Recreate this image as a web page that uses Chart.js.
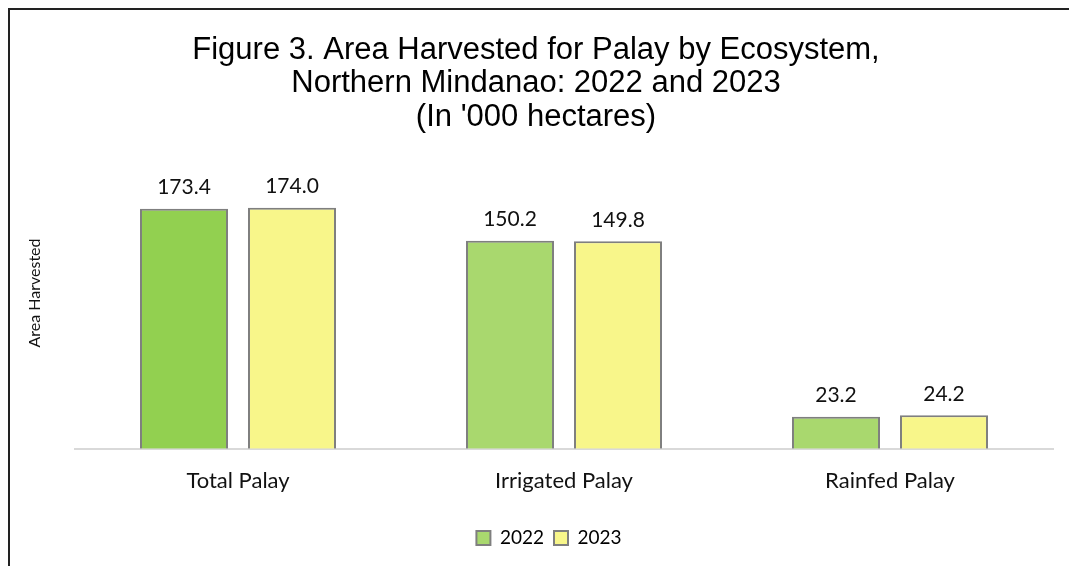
<!DOCTYPE html>
<html><head><meta charset="utf-8">
<script src="https://cdn.jsdelivr.net/npm/chart.js@4/dist/chart.umd.min.js"></script>
<style>
html,body{margin:0;padding:0;background:#fff;overflow:hidden;}
#frame{position:absolute;left:8px;top:8px;width:1100px;height:600px;border-left:2px solid #222;border-top:2px solid #222;}
#wrap{position:absolute;left:0;top:0;width:1069px;height:566px;}
</style></head>
<body>
<div id="frame"></div>
<div id="wrap"><canvas id="c" width="1069" height="566"></canvas></div>
<script>
const categories = ["Total Palay", "Irrigated Palay", "Rainfed Palay"];
const seriesNames = ["2022", "2023"];
const values2022 = [173.4, 150.2, 23.2];
const values2023 = [174.0, 149.8, 24.2];
const titleLines = ["Figure 3. Area Harvested for Palay by Ecosystem,", "Northern Mindanao: 2022 and 2023", "(In '000 hectares)"];
const yAxisTitle = "Area Harvested";

const green = ["#92D050", "#A9D86E", "#A9D86E"];
const yellow = "#F8F68A";
const legendColors = ["#A9D86E", yellow];

const labelFont = "Lato, 'DejaVu Sans', sans-serif";

const valueLabels = {
  id: 'valueLabels',
  afterDatasetsDraw(chart) {
    const ctx = chart.ctx;
    ctx.save();
    ctx.font = "21px " + labelFont;
    ctx.fillStyle = "#111";
    ctx.textAlign = "center";
    ctx.textBaseline = "bottom";
    chart.data.datasets.forEach((ds, i) => {
      chart.getDatasetMeta(i).data.forEach((el, j) => {
        ctx.fillText(ds.data[j].toFixed(1), el.x, el.y - 11);
      });
    });
    ctx.restore();
  }
};
const textDecor = {
  id: 'textDecor',
  afterDraw(chart) {
    const ctx = chart.ctx;
    ctx.save();
    ctx.fillStyle = "#000";
    ctx.textAlign = "center";
    ctx.textBaseline = "alphabetic";
    ctx.font = "31px 'Liberation Sans', Arial, sans-serif";
    const baselines = [59, 92, 126];
    titleLines.forEach((t, i) => ctx.fillText(t, 536, baselines[i]));
    ctx.font = "16px " + labelFont;
    ctx.fillStyle = "#111";
    ctx.textBaseline = "middle";
    ctx.translate(35, 293);
    ctx.rotate(-Math.PI / 2);
    ctx.fillText(yAxisTitle, 0, 0);
    ctx.restore();
  }
};

new Chart(document.getElementById('c'), {
  type: 'bar',
  data: {
    labels: categories,
    datasets: [
      { label: seriesNames[0], data: values2022, backgroundColor: green, borderColor: "#7F7F7F", borderWidth: 2 },
      { label: seriesNames[1], data: values2023, backgroundColor: yellow, borderColor: "#7F7F7F", borderWidth: 2 }
    ]
  },
  options: {
    responsive: false,
    animation: false,
    devicePixelRatio: 1,
    categoryPercentage: 0.6626,
    barPercentage: 0.815,
    layout: { padding: { left: 45, right: 16, top: 158, bottom: 8.6 } },
    plugins: {
      title: { display: false },
      legend: {
        position: 'bottom',
        labels: {
          font: { family: labelFont, size: 19 },
          color: "#111",
          boxWidth: 14, boxHeight: 14,
          padding: 10,
          generateLabels(chart) {
            return chart.data.datasets.map((ds, i) => ({
              text: ds.label, fillStyle: legendColors[i], strokeStyle: "#7F7F7F", lineWidth: 2, datasetIndex: i, hidden: false
            }));
          }
        }
      },
      tooltip: { enabled: false }
    },
    scales: {
      x: {
        grid: { display: false, drawTicks: false },
        border: { display: true, color: "#D9D9D9", width: 2 },
        ticks: { color: "#111", font: { family: labelFont, size: 22 }, padding: 19 },
        afterFit(scale) { scale.height = 69.6; }
      },
      y: {
        display: true,
        min: 0, max: 210,
        grid: { display: false, drawTicks: false },
        border: { display: false },
        ticks: { display: false },
        afterFit(scale) { scale.width = 30; }
      }
    }
  },
  plugins: [valueLabels, textDecor]
});
</script>
</body></html>
